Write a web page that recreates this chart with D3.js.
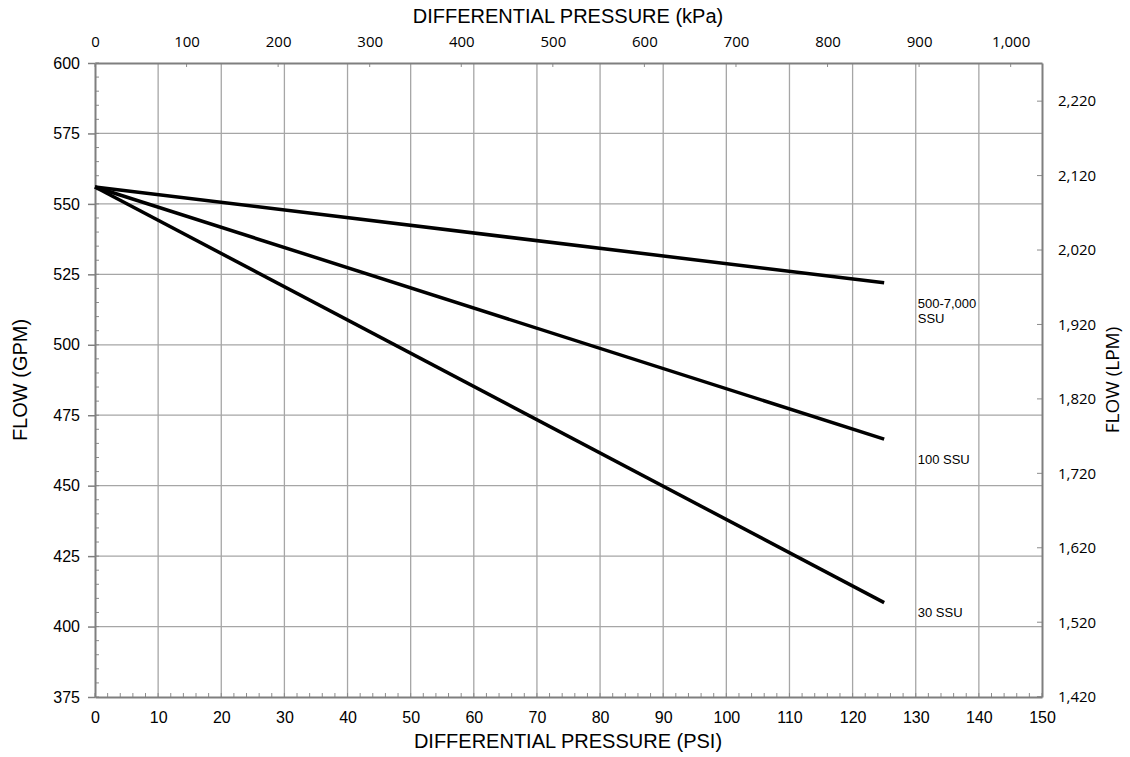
<!DOCTYPE html>
<html>
<head>
<meta charset="utf-8">
<script src="https://cdn.jsdelivr.net/npm/d3@7"></script>
<style>
  body { margin: 0; background: #fff; }
  text { font-family: "Liberation Sans", Arial, sans-serif; fill: #000; }
  .alt text, text.alt { font-family: "Open Sans", "Liberation Sans", sans-serif; }
</style>
</head>
<body>
<svg id="chart" width="1130" height="757"></svg>
<script>
// values
var psiTicks = [0, 10, 20, 30, 40, 50, 60, 70, 80, 90, 100, 110, 120, 130, 140, 150];
var kpaTicks = [0, 100, 200, 300, 400, 500, 600, 700, 800, 900, 1000];
var gpmTicks = [375, 400, 425, 450, 475, 500, 525, 550, 575, 600];
var lpmTicks = [1420, 1520, 1620, 1720, 1820, 1920, 2020, 2120, 2220];
var seriesNames = ["500-7,000\nSSU", "100 SSU", "30 SSU"];
var seriesPsi = [0, 125];
var seriesGpm = [
  [556, 522],
  [556, 466.5],
  [556, 408.5]
];
var labelGpm = [513, 457.7, 403.4];
var PSI_TO_KPA = 6.89476;
var GPM_TO_LPM = 3.78541;

function drawChart() {
  var svg = d3.select("#chart");
  var plotLeft = 95, plotRight = 1042, plotTop = 63, plotBottom = 697;

  var x = d3.scaleLinear().domain([0, 150]).range([plotLeft, plotRight]);
  var y = d3.scaleLinear().domain([375, 600]).range([plotBottom, plotTop]);
  var xk = d3.scaleLinear().domain([0, 150 * PSI_TO_KPA]).range([plotLeft, plotRight]);
  var yl = d3.scaleLinear().domain([375 * GPM_TO_LPM, 600 * GPM_TO_LPM]).range([plotBottom, plotTop]);
  var fmt = d3.format(",");

  var g = svg.append("g");

  // grid
  g.selectAll(".vgrid").data(psiTicks.slice(1, -1)).enter().append("line")
    .attr("x1", function(d) { return x(d); }).attr("x2", function(d) { return x(d); })
    .attr("y1", plotTop).attr("y2", plotBottom)
    .attr("stroke", "#a6a6a6").attr("stroke-width", 1.3);
  g.selectAll(".hgrid").data(gpmTicks.slice(1, -1)).enter().append("line")
    .attr("y1", function(d) { return y(d); }).attr("y2", function(d) { return y(d); })
    .attr("x1", plotLeft).attr("x2", plotRight)
    .attr("stroke", "#a6a6a6").attr("stroke-width", 1.3);

  // minor ticks (inward)
  g.selectAll(".bminor").data(d3.range(0, 151, 2)).enter().append("line")
    .attr("x1", function(d) { return x(d); }).attr("x2", function(d) { return x(d); })
    .attr("y1", plotBottom).attr("y2", plotBottom - 4)
    .attr("stroke", "#8c8c8c").attr("stroke-width", 1);
  g.selectAll(".lminor").data(d3.range(375, 601, 5)).enter().append("line")
    .attr("y1", function(d) { return y(d); }).attr("y2", function(d) { return y(d); })
    .attr("x1", plotLeft).attr("x2", plotLeft + 4)
    .attr("stroke", "#8c8c8c").attr("stroke-width", 1);
  g.selectAll(".tminor").data(kpaTicks).enter().append("line")
    .attr("x1", function(d) { return xk(d); }).attr("x2", function(d) { return xk(d); })
    .attr("y1", plotTop).attr("y2", plotTop + 4)
    .attr("stroke", "#8c8c8c").attr("stroke-width", 1);
  g.selectAll(".rminor").data(lpmTicks).enter().append("line")
    .attr("y1", function(d) { return yl(d); }).attr("y2", function(d) { return yl(d); })
    .attr("x1", plotRight).attr("x2", plotRight - 5)
    .attr("stroke", "#8c8c8c").attr("stroke-width", 1);

  // axes frame
  var axisStyle = function(sel) {
    sel.select(".domain").attr("stroke", "#7f7f7f").attr("stroke-width", 2).attr("fill", "none");
    sel.selectAll(".tick line").attr("stroke", "#7f7f7f").attr("stroke-width", 1.5);
  };
  g.append("g").attr("transform", "translate(0," + plotBottom + ")")
    .call(d3.axisBottom(x).tickValues(psiTicks).tickSize(0).tickSizeOuter(0).tickPadding(14.5))
    .call(axisStyle)
    .selectAll("text").attr("font-size", 16);
  g.append("g").attr("transform", "translate(" + plotLeft + ",0)")
    .call(d3.axisLeft(y).tickValues(gpmTicks).tickSize(7).tickSizeOuter(0).tickPadding(8))
    .call(axisStyle)
    .selectAll("text").attr("font-size", 16);
  g.append("g").attr("class", "alt").attr("transform", "translate(0," + plotTop + ")")
    .call(d3.axisTop(xk).tickValues(kpaTicks).tickFormat(fmt).tickSize(0).tickSizeOuter(0).tickPadding(16))
    .call(axisStyle)
    .selectAll("text").attr("font-size", 15);
  g.append("g").attr("class", "alt").attr("transform", "translate(" + plotRight + ",0)")
    .call(d3.axisRight(yl).tickValues(lpmTicks).tickFormat(fmt).tickSize(0).tickSizeOuter(0).tickPadding(16))
    .call(axisStyle)
    .selectAll("text").attr("font-size", 15);

  // series
  var line = d3.line()
    .x(function(d) { return x(d[0]); })
    .y(function(d) { return y(d[1]); });
  seriesGpm.forEach(function(vals) {
    var pts = seriesPsi.map(function(p, j) { return [p, vals[j]]; });
    g.append("path").datum(pts)
      .attr("d", line)
      .attr("fill", "none")
      .attr("stroke", "#000")
      .attr("stroke-width", 3.5);
  });

  // series labels
  seriesNames.forEach(function(name, i) {
    var t = g.append("text")
      .attr("x", x(130) + 2)
      .attr("y", y(labelGpm[i]))
      .attr("font-size", 13);
    name.split("\n").forEach(function(part, k) {
      t.append("tspan").attr("x", x(130) + 2).attr("dy", k === 0 ? 0 : 15).text(part);
    });
  });

  // axis titles
  svg.append("text").attr("x", 568).attr("y", 23)
    .attr("text-anchor", "middle").attr("font-size", 20)
    .text("DIFFERENTIAL PRESSURE (kPa)");
  svg.append("text").attr("x", 568).attr("y", 748)
    .attr("text-anchor", "middle").attr("font-size", 20)
    .text("DIFFERENTIAL PRESSURE (PSI)");
  svg.append("text")
    .attr("transform", "translate(27," + 380 + ") rotate(-90)")
    .attr("text-anchor", "middle").attr("font-size", 20)
    .text("FLOW (GPM)");
  svg.append("text").attr("class", "alt")
    .attr("transform", "translate(1119," + 380 + ") rotate(-90)")
    .attr("text-anchor", "middle").attr("font-size", 19)
    .text("FLOW (LPM)");
}

drawChart();
</script>
</body>
</html>
